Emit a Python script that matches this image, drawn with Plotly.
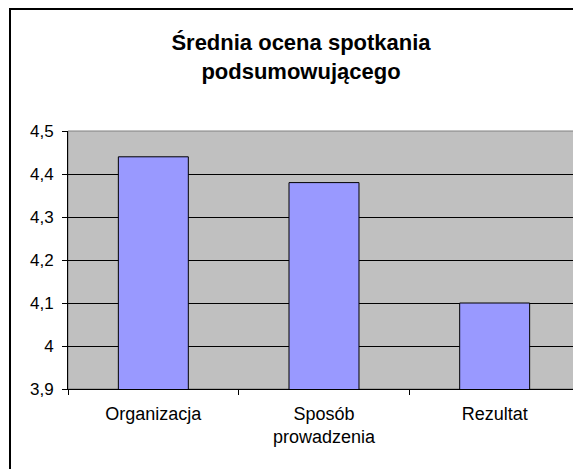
import plotly.graph_objects as go

categories = ["Organizacja", "Sposób<br>prowadzenia", "Rezultat"]
values = [4.44, 4.38, 4.10]
y_ticks = [3.9, 4.0, 4.1, 4.2, 4.3, 4.4, 4.5]

# page body has an 8px offset; figure coordinates below account for it
W, H = 581, 469
ml, mr, mt, mb = 60, 9, 123, 88
pw = W - ml - mr
ph = H - mt - mb

fig = go.Figure(go.Bar(
    x=categories, y=values,
    marker=dict(color="#9999FF", line=dict(color="#000000", width=1)),
    width=0.41,
))

fig.update_layout(
    width=W, height=H,
    margin=dict(l=ml, r=mr, t=mt, b=mb),
    paper_bgcolor="white",
    plot_bgcolor="#C0C0C0",
    separators=", ",
    font=dict(family="Liberation Sans, Arial, sans-serif", size=17, color="black"),
    title=dict(
        text="<b>Średnia ocena spotkania<br>podsumowującego</b>",
        x=293 / W, xanchor="center",
        y=1 - 42 / H, yanchor="top",
        font=dict(size=22, color="black"),
    ),
    showlegend=False,
    bargap=0.59,
)

fig.update_yaxes(
    range=[3.9, 4.5], tickvals=y_ticks,
    showgrid=True, gridcolor="#000000", gridwidth=1,
    showline=True, linecolor="black", linewidth=1,
    ticks="outside", ticklen=5, tickcolor="black",
    tickfont=dict(size=17),
    ticklabelstandoff=5,
    zeroline=False,
)
fig.update_xaxes(
    showgrid=False,
    showline=True, linecolor="black", linewidth=1,
    ticks="outside", ticklen=5, tickcolor="black",
    tickson="boundaries",
    tickfont=dict(size=18),
    ticklabelstandoff=8,
)

# plot-area border (grey top/right)
fig.add_shape(type="rect", xref="x domain", yref="y domain",
              x0=0, x1=1, y0=0, y1=1,
              line=dict(color="#808080", width=1), layer="below")

# outer chart border
fig.add_shape(type="rect", xref="paper", yref="paper",
              x0=(2 - ml) / pw, x1=1.2,
              y0=-0.6, y1=1 + (mt - 1) / ph,
              line=dict(color="black", width=2))

fig.write_html("out.html")
